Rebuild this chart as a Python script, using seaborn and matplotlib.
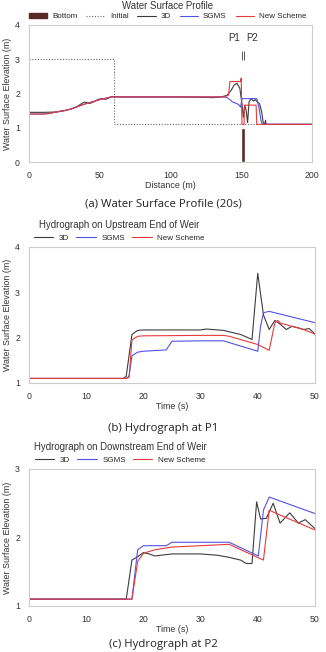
import numpy as np
import pandas as pd
import matplotlib
matplotlib.use('Agg')
import matplotlib.pyplot as plt
import seaborn as sns
from matplotlib.patches import Patch
from matplotlib.lines import Line2D

# ---- data ----
# (a) water surface profile at 20 s
bottom_x = [151.2]
bottom_h = [1.0]

init_dist = [0, 60, 60, 200]
init_elev = [3.0, 3.0, 1.1, 1.1]

prof_3d_dist = [0, 10, 20, 25, 30, 34, 37, 39, 41, 43, 46, 49, 52, 54, 56, 58, 60, 65, 70, 80,
                100, 120, 130, 136, 140, 143, 145, 147, 149, 150.5, 151.5, 152.5, 153.5, 154.5,
                155.5, 157, 158.5, 160, 161.5, 163, 164.5, 165.5, 166.5, 167.2, 167.5, 200]
prof_3d_elev = [1.45, 1.45, 1.46, 1.5, 1.55, 1.62, 1.7, 1.75, 1.73, 1.71, 1.76, 1.83, 1.85, 1.83,
                1.86, 1.9, 1.91, 1.9, 1.9, 1.9, 1.9, 1.89, 1.88, 1.9, 1.95, 2.1, 2.25, 2.3, 2.15,
                1.7, 1.3, 1.65, 1.5, 1.15, 1.75, 1.85, 1.78, 1.82, 1.75, 1.7, 1.45, 1.15, 1.1,
                1.22, 1.1, 1.1]

prof_sg_dist = [0, 10, 15, 20, 25, 30, 35, 40, 45, 50, 55, 58, 60, 70, 100, 130, 138, 140, 142,
                144, 146, 148, 149.5, 150.5, 152, 161, 162.5, 164, 165, 200]
prof_sg_elev = [1.4, 1.4, 1.42, 1.47, 1.5, 1.55, 1.63, 1.7, 1.76, 1.82, 1.87, 1.9, 1.9, 1.9, 1.9,
                1.9, 1.9, 1.88, 1.82, 1.75, 1.72, 1.68, 1.6, 1.85, 1.85, 1.85, 1.6, 1.2, 1.1, 1.1]

prof_ns_dist = [0, 10, 15, 20, 25, 30, 35, 40, 45, 50, 55, 58, 60, 70, 100, 130, 138, 141, 142,
                147, 149.5, 150, 150.5, 151, 152, 152.2, 160.5, 161, 200]
prof_ns_elev = [1.4, 1.4, 1.42, 1.47, 1.5, 1.55, 1.63, 1.7, 1.76, 1.82, 1.87, 1.9, 1.9, 1.9, 1.9,
                1.9, 1.9, 1.95, 2.35, 2.35, 2.35, 2.45, 1.1, 1.1, 1.1, 1.66, 1.66, 1.1, 1.1]

# (b) hydrograph at P1
p1_3d_t = [0, 16.5, 17, 18, 19, 20, 25, 30, 31, 34, 37, 39, 40, 41, 42, 43, 44, 45, 46, 47, 48, 49, 50]
p1_3d_v = [1.1, 1.1, 1.15, 2.07, 2.16, 2.17, 2.17, 2.17, 2.19, 2.16, 2.07, 1.96, 3.42, 2.5, 2.18,
           2.38, 2.29, 2.18, 2.25, 2.22, 2.18, 2.2, 2.08]
p1_sg_t = [0, 17, 17.5, 18, 19, 20, 24, 25, 30, 34, 40, 40.5, 41, 42, 50]
p1_sg_v = [1.1, 1.1, 1.15, 1.6, 1.68, 1.7, 1.73, 1.92, 1.93, 1.93, 1.7, 2.25, 2.55, 2.58, 2.33]
p1_ns_t = [0, 17, 17.5, 18, 19, 20, 30, 34, 35, 40, 42, 43, 43.5, 44, 46, 48, 50]
p1_ns_v = [1.1, 1.1, 1.12, 1.95, 2.03, 2.04, 2.05, 2.05, 2.03, 1.85, 1.72, 2.33, 2.38, 2.32, 2.25,
           2.18, 2.08]

# (c) hydrograph at P2
p2_3d_t = [0, 17, 18, 19, 20, 21, 22, 25, 30, 33, 35, 37, 38, 39, 39.8, 40.5, 41.5, 42.7, 43.9,
           45.6, 47.1, 48.3, 50]
p2_3d_v = [1.1, 1.1, 1.67, 1.72, 1.78, 1.76, 1.73, 1.76, 1.76, 1.74, 1.71, 1.67, 1.62, 1.62, 2.52,
           2.27, 2.28, 2.5, 2.21, 2.36, 2.21, 2.26, 2.13]
p2_sg_t = [0, 18, 19, 20, 24, 25, 35, 40.1, 41, 42, 50]
p2_sg_v = [1.1, 1.1, 1.82, 1.88, 1.88, 1.93, 1.93, 1.73, 2.4, 2.59, 2.35]
p2_ns_t = [0, 18, 19, 20, 22, 25, 30, 35, 41, 42, 43, 50]
p2_ns_v = [1.1, 1.1, 1.65, 1.77, 1.82, 1.86, 1.88, 1.9, 1.67, 2.4, 2.36, 2.11]

# ---- style ----
sns.set_style('white')
plt.rcParams['font.family'] = ['Liberation Sans', 'DejaVu Sans']

c_3d = '#3c3c3c'
c_sg = '#5252e6'
c_ns = '#e63a3a'
c_bot = '#5a2826'
c_init = '#666666'
c_spine = '#cccccc'
lw = 0.8

fig = plt.figure(figsize=(3.26, 6.52), dpi=100)
ax_a = fig.add_axes([0.089, 0.7515, 0.868, 0.2102])
ax_b = fig.add_axes([0.089, 0.4126, 0.877, 0.2086])
ax_c = fig.add_axes([0.089, 0.0706, 0.877, 0.2101])


def style_axes(ax):
    for s in ax.spines.values():
        s.set_color(c_spine)
        s.set_linewidth(0.8)
    ax.tick_params(axis='both', length=2, width=0.6, color='#999999', labelsize=6.3,
                   pad=4.5, labelcolor='#333333', direction='out')
    ax.set_ylabel('Water Surface Elevation (m)', fontsize=6.4, color='#333333', labelpad=2)


def line(ax, x, y, color, label, ls='-'):
    df = pd.DataFrame({'x': x, 'y': y})
    sns.lineplot(data=df, x='x', y='y', ax=ax, color=color, lw=lw, ls=ls,
                 sort=False, estimator=None, label=label, legend=False)


# (a)
ax_a.bar(bottom_x, bottom_h, width=2.6, color=c_bot, zorder=5)
line(ax_a, init_dist, init_elev, c_init, 'Initial', ls=(0, (1, 1.5)))
line(ax_a, prof_3d_dist, prof_3d_elev, c_3d, '3D')
line(ax_a, prof_sg_dist, prof_sg_elev, c_sg, 'SGMS')
line(ax_a, prof_ns_dist, prof_ns_elev, c_ns, 'New Scheme')
ax_a.set_xlim(0, 200)
ax_a.set_ylim(0, 4)
ax_a.set_xticks([0, 50, 100, 150, 200])
ax_a.set_yticks([0, 1, 2, 3, 4])
ax_a.set_xlabel('Distance (m)', fontsize=6.4, color='#333333', labelpad=1)
style_axes(ax_a)
ax_a.vlines([150.7, 152.3], 2.98, 3.24, color='#555555', lw=0.7)
ax_a.text(145.2, 3.61, 'P1', fontsize=7, ha='center', va='center', color='#333333')
ax_a.text(157.6, 3.61, 'P2', fontsize=7, ha='center', va='center', color='#333333')

handles_a = [Patch(color=c_bot, label='Bottom'),
             Line2D([], [], color=c_init, lw=lw, ls=(0, (1, 1.5)), label='Initial'),
             Line2D([], [], color=c_3d, lw=lw, label='3D'),
             Line2D([], [], color=c_sg, lw=lw, label='SGMS'),
             Line2D([], [], color=c_ns, lw=lw, label='New Scheme')]
leg = ax_a.legend(handles=handles_a, ncol=5, loc='lower center', bbox_to_anchor=(0.49, 1.0),
                  frameon=False, fontsize=5.8, title='Water Surface Profile', title_fontsize=6.9,
                  handlelength=2.3, handleheight=0.5, columnspacing=1.1, handletextpad=0.6,
                  borderpad=0.1, labelspacing=0.2)
leg.get_title().set_color('#333333')

# (b) and (c)
for ax, d, ttl in [(ax_b, (p1_3d_t, p1_3d_v, p1_sg_t, p1_sg_v, p1_ns_t, p1_ns_v),
                    'Hydrograph on Upstream End of Weir'),
                   (ax_c, (p2_3d_t, p2_3d_v, p2_sg_t, p2_sg_v, p2_ns_t, p2_ns_v),
                    'Hydrograph on Downstream End of Weir')]:
    line(ax, d[0], d[1], c_3d, '3D')
    line(ax, d[2], d[3], c_sg, 'SGMS')
    line(ax, d[4], d[5], c_ns, 'New Scheme')
    ax.set_xlim(0, 50)
    ax.set_xticks([0, 10, 20, 30, 40, 50])
    ax.set_xlabel('Time (s)', fontsize=6.4, color='#333333', labelpad=1)
    style_axes(ax)
    lg = ax.legend(ncol=3, loc='lower left', bbox_to_anchor=(0.0, 1.0), frameon=False,
                   fontsize=5.8, title=ttl, title_fontsize=6.9, handlelength=2.4,
                   columnspacing=0.9, handletextpad=0.7, borderpad=0.1)
    lg.get_title().set_color('#333333')

ax_b.set_ylim(1, 4)
ax_b.set_yticks([1, 2, 3, 4])
ax_c.set_ylim(1, 3)
ax_c.set_yticks([1, 2, 3])

# captions
cap_kw = dict(ha='center', va='center', fontsize=8.2, color='#222222',
              family=['Open Sans', 'DejaVu Sans'])
fig.text(0.5, 1 - 204 / 652, '(a) Water Surface Profile (20s)', **cap_kw)
fig.text(0.5, 1 - 428 / 652, '(b) Hydrograph at P1', **cap_kw)
fig.text(0.5, 1 - 644 / 652, '(c) Hydrograph at P2', **cap_kw)

fig.savefig('out.png', dpi=100)
